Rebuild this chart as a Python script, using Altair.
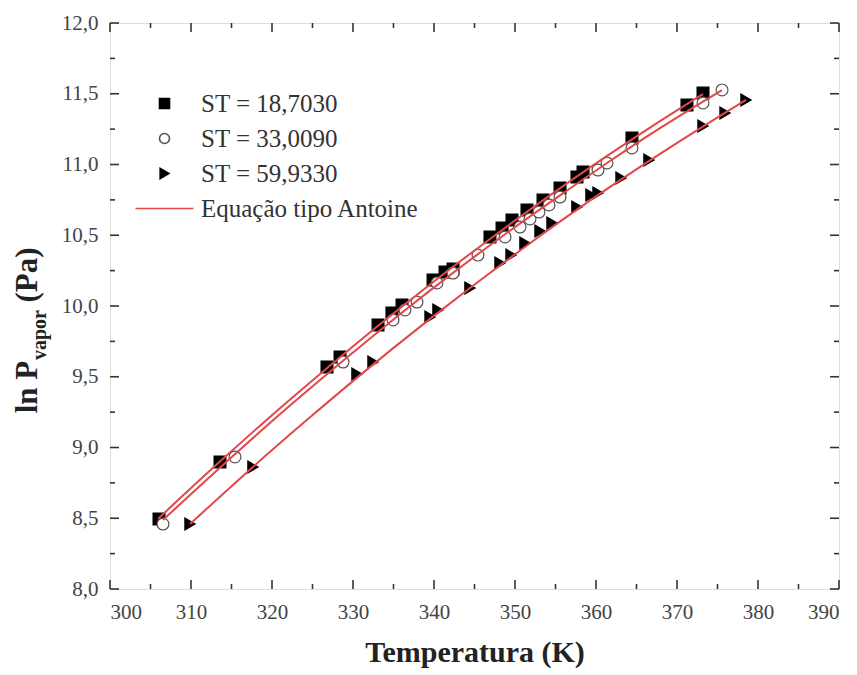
import altair as alt
import pandas as pd

# ---------------- data ----------------
SERIES = ["ST = 18,7030", "ST = 33,0090", "ST = 59,9330"]
FIT_LABEL = "Equação tipo Antoine"

S1_T = [306.05, 313.58, 326.79, 328.40, 333.09, 334.81, 336.05, 339.88, 341.36, 342.35,
        346.91, 348.40, 349.63, 351.48, 353.46, 355.56, 357.65, 358.40, 364.44, 371.23, 373.21]
S1_V = [8.495, 8.898, 9.569, 9.640, 9.866, 9.951, 10.007, 10.184, 10.240, 10.261,
        10.488, 10.551, 10.608, 10.678, 10.749, 10.834, 10.912, 10.947, 11.187, 11.420, 11.505]

S2_T = [306.54, 315.43, 328.77, 334.94, 336.42, 337.90, 340.37, 342.35, 345.43, 348.77,
        350.62, 351.85, 352.96, 354.20, 355.56, 360.25, 361.36, 364.44, 373.21, 375.56]
S2_V = [8.459, 8.933, 9.604, 9.901, 9.972, 10.028, 10.163, 10.233, 10.360, 10.488,
        10.558, 10.615, 10.664, 10.714, 10.770, 10.961, 11.011, 11.117, 11.435, 11.527]

S3_T = [309.88, 317.65, 330.49, 332.47, 339.51, 340.49, 344.44, 348.15, 349.51, 351.23,
        353.09, 354.57, 357.65, 359.38, 360.25, 363.09, 366.54, 373.21, 375.93, 378.52]
S3_V = [8.459, 8.862, 9.519, 9.604, 9.922, 9.972, 10.127, 10.304, 10.360, 10.445,
        10.530, 10.587, 10.700, 10.784, 10.799, 10.905, 11.032, 11.272, 11.364, 11.456]

# fitted curves
F1_T = [305.93, 313.33, 319.75, 326.67, 333.33, 339.75, 346.91, 353.70, 360.49, 366.67, 373.21]
F1_V = [8.496, 8.888, 9.216, 9.555, 9.871, 10.163, 10.474, 10.757, 11.027, 11.261, 11.498]

F2_T = [306.54, 315.31, 322.22, 328.77, 335.80, 341.98, 348.77, 355.56, 361.73, 367.90, 375.56]
F2_V = [8.488, 8.947, 9.296, 9.613, 9.942, 10.218, 10.507, 10.782, 11.025, 11.257, 11.526]

F3_T = [309.88, 317.65, 324.69, 330.62, 339.51, 344.44, 351.48, 357.78, 363.21, 366.67, 373.58, 378.52]
F3_V = [8.459, 8.863, 9.213, 9.499, 9.909, 10.127, 10.428, 10.686, 10.898, 11.029, 11.282, 11.456]

X_MAJOR = list(range(300, 391, 10))
X_MINOR = list(range(305, 390, 10))
Y_MAJOR = [8 + 0.5 * i for i in range(9)]
Y_MINOR = [8.25 + 0.5 * i for i in range(8)]
YTITLE = ["ln P", "vapor", "(Pa)"]

# ---------------- build tables ----------------
pts = pd.concat([
    pd.DataFrame({"T": S1_T, "V": S1_V, "serie": SERIES[0]}),
    pd.DataFrame({"T": S2_T, "V": S2_V, "serie": SERIES[1]}),
    pd.DataFrame({"T": S3_T, "V": S3_V, "serie": SERIES[2]}),
], ignore_index=True)

fits = pd.concat([
    pd.DataFrame({"T": F1_T, "V": F1_V, "curve": "a"}),
    pd.DataFrame({"T": F2_T, "V": F2_V, "curve": "b"}),
    pd.DataFrame({"T": F3_T, "V": F3_V, "curve": "c"}),
], ignore_index=True)

RED = "#e2474b"
FONT = "Liberation Serif"
DOMAIN = SERIES + [FIT_LABEL]
W, H = 729, 566
MAJ, MIN = 9, 5

xscale = alt.Scale(domain=[300, 390], nice=False, zero=False)
yscale = alt.Scale(domain=[8, 12], nice=False, zero=False)

x_axis = alt.Axis(values=X_MAJOR, format="d", domain=False, grid=False, ticks=False,
                  labelFont=FONT, labelFontSize=21, labelColor="#444", labelPadding=12,
                  title="Temperatura (K)", titleFont=FONT, titleFontSize=30,
                  titleFontWeight="bold", titleColor="#222", titlePadding=15)
y_axis = alt.Axis(values=Y_MAJOR, domain=False, grid=False, ticks=False,
                  labelExpr="replace(format(datum.value, '.1f'), '.', ',')",
                  labelFont=FONT, labelFontSize=21, labelColor="#444", labelPadding=12,
                  title=None)


def X(field="T"):
    return alt.X(f"{field}:Q", scale=xscale, axis=x_axis)


def Y(field="V"):
    return alt.Y(f"{field}:Q", scale=yscale, axis=y_axis)


legend = alt.Legend(
    orient="none", legendX=42, legendY=68, title=None,
    labelFont=FONT, labelFontSize=25, labelColor="#333", labelLimit=400,
    symbolSize=100, symbolStrokeWidth=1.6, labelOffset=24,
    rowPadding=9, padding=0,
)

points = alt.Chart(pts).mark_point(size=140, strokeWidth=1.2, opacity=1).encode(
    x=X(), y=Y(),
    shape=alt.Shape("serie:N", scale=alt.Scale(domain=DOMAIN,
                    range=["square", "circle", "triangle-right", "M-5.8,0H5.8"]), legend=legend),
    fill=alt.Fill("serie:N", scale=alt.Scale(domain=DOMAIN,
                  range=["black", "white", "black", "transparent"]), legend=legend),
    stroke=alt.Stroke("serie:N", scale=alt.Scale(domain=DOMAIN,
                      range=["black", "#555555", "black", RED]), legend=legend),
)

lines = alt.Chart(fits).mark_line(color=RED, strokeWidth=2, interpolate="monotone").encode(
    x=X(), y=Y(), detail="curve:N",
)


def xticks(values, length, top):
    base = 0 if top else H
    end = length if top else H - length
    return alt.Chart(pd.DataFrame({"T": values})).mark_rule(color="#333", strokeWidth=1.6).encode(
        x=X(), y=alt.value(base), y2=alt.value(end))


def yticks(values, length, right):
    base = W if right else 0
    end = W - length if right else length
    return alt.Chart(pd.DataFrame({"V": values})).mark_rule(color="#333", strokeWidth=1.6).encode(
        y=Y(), x=alt.value(base), x2=alt.value(end))


ticks = [xticks(X_MAJOR, MAJ, False), xticks(X_MINOR, MIN, False),
         xticks(X_MAJOR, MAJ, True), xticks(X_MINOR, MIN, True),
         yticks(Y_MAJOR, MAJ, False), yticks(Y_MINOR, MIN, False),
         yticks(Y_MAJOR, MAJ, True), yticks(Y_MINOR, MIN, True)]


def title_part(txt, size, xv, yv):
    return alt.Chart(pd.DataFrame({"t": [txt]})).mark_text(
        angle=270, font=FONT, fontWeight="bold", fontSize=size, color="#222",
        align="center", baseline="middle",
    ).encode(x=alt.value(xv), y=alt.value(yv), text="t:N")


ytitle = [title_part(YTITLE[0], 31, -82, 364),
          title_part(YTITLE[1], 20, -70, 312),
          title_part(YTITLE[2], 31, -82, 252)]

chart = alt.layer(points, lines, *ticks, *ytitle).properties(
    width=W, height=H,
    autosize=alt.AutoSizeParams(type="none"),
    padding={"left": 102, "top": 15, "right": 10, "bottom": 85},
).configure_view(stroke="#333", strokeWidth=2).configure(background="white")

chart.save("out.html", embed_options={"renderer": "svg", "actions": False})
